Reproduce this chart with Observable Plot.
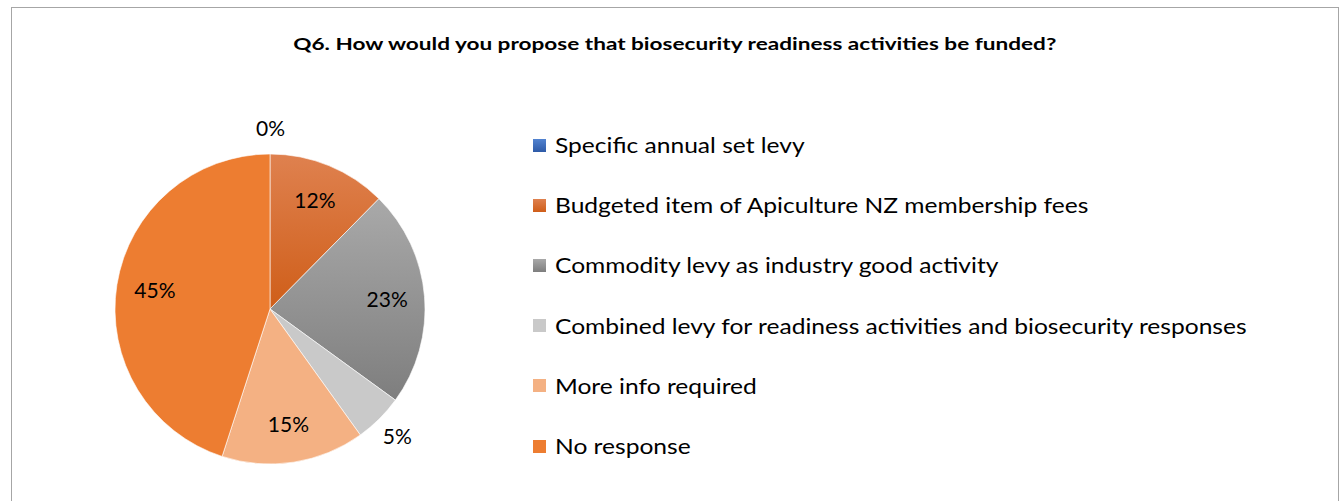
<!DOCTYPE html>
<html><head><meta charset="utf-8">
<script src="https://cdn.jsdelivr.net/npm/d3@7"></script>
<script src="https://cdn.jsdelivr.net/npm/@observablehq/plot@0.6"></script>
<style>
body{margin:0;background:#fff;}
#wrap{position:relative;width:1343px;height:501px;overflow:hidden;font-family:Lato,"Open Sans",sans-serif;color:#000;}
#frame{position:absolute;left:11px;top:7px;width:1328px;height:520px;border:1.5px solid #a6a6a6;box-sizing:border-box;}
#title{position:absolute;top:34px;left:11px;width:1328px;text-align:center;font-weight:bold;font-size:17.5px;line-height:20px;}
#title span{display:inline-block;transform:scaleX(1.29);transform-origin:center;}
#chart{position:absolute;left:0;top:0;}
.leg{position:absolute;left:533px;height:24px;font-size:21px;line-height:24px;display:flex;align-items:center;white-space:nowrap;}
.leg span{display:inline-block;transform:scaleX(1.17);transform-origin:left center;}
.sw{width:13px;height:13px;margin-right:9px;flex:none;}
</style></head>
<body><div id="wrap"><div id="frame"></div><div id="title"><span></span></div><div id="chart"></div><div id="legend"></div></div>
<script>
const title = "Q6. How would you propose that biosecurity readiness activities be funded?";
const categories = [
  "Specific annual set levy",
  "Budgeted item of Apiculture NZ membership fees",
  "Commodity levy as industry good activity",
  "Combined levy for readiness activities and biosecurity responses",
  "More info required",
  "No response"
];
const values = [0, 12.4, 22.6, 5.1, 14.9, 45.0];
const labels = values.map(v => Math.round(v) + "%");
// style: [top colour, bottom colour] per slice
const colorTop = ["#5283d0", "#df814f", "#a9a9a9", "#c9c9c9", "#f4b183", "#ed7d31"];
const colorBot = ["#2e5aa7", "#cf5e19", "#7e7e7e", "#c9c9c9", "#f4b183", "#ed7d31"];

document.querySelector("#title span").textContent = title;

const total = d3.sum(values);
const pie = d3.pie().sort(null).value(d => d.value)(categories.map((c, i) => ({cat: c, value: values[i], i})));
const slices = pie.map(p => {
  const mid = (p.startAngle + p.endAngle) / 2;
  const frac = p.data.value / total;
  const r = frac < 0.08 ? 1.16 : 0.755;
  return {cat: p.data.cat, i: p.data.i, label: labels[p.data.i], start: p.startAngle, end: p.endAngle,
          lx: r * Math.sin(mid), ly: r * Math.cos(mid)};
});

const W = 1343, H = 501;
const cx = 270, cy = 309, R = 155;

const pieMark = (index, scales) => {
  const x0 = scales.x(0), y0 = scales.y(0), rad = scales.x(1) - scales.x(0);
  const g = d3.create("svg:g");
  const defs = g.append("defs");
  slices.forEach(s => {
    const lg = defs.append("linearGradient").attr("id", "grad" + s.i)
      .attr("x1", 0).attr("y1", 0).attr("x2", 0).attr("y2", 1);
    lg.append("stop").attr("offset", "0%").attr("stop-color", colorTop[s.i]);
    lg.append("stop").attr("offset", "100%").attr("stop-color", colorBot[s.i]);
  });
  const arc = d3.arc().innerRadius(0).outerRadius(rad);
  g.selectAll("path").data(slices.filter(s => s.end > s.start)).join("path")
    .attr("transform", `translate(${x0},${y0})`)
    .attr("d", s => arc({startAngle: s.start, endAngle: s.end}))
    .attr("fill", s => `url(#grad${s.i})`)
    .attr("stroke", "#ffffff").attr("stroke-width", 0.6);
  return g.node();
};

const chart = Plot.plot({
  width: W, height: H,
  marginLeft: cx - R, marginRight: W - (cx + R),
  marginTop: cy - R, marginBottom: H - (cy + R),
  x: {domain: [-1, 1], axis: null},
  y: {domain: [-1, 1], axis: null},
  style: {background: "transparent", overflow: "visible"},
  marks: [
    pieMark,
    Plot.text(slices, {x: "lx", y: "ly", text: "label", fontSize: 21, fill: "#000",
      fontFamily: "Lato, 'Open Sans', sans-serif"})
  ]
});
document.getElementById("chart").appendChild(chart);

const legend = document.getElementById("legend");
categories.forEach((c, i) => {
  const row = document.createElement("div");
  row.className = "leg";
  row.style.top = (145 - 12 + i * 60.2) + "px";
  const sw = document.createElement("div");
  sw.className = "sw";
  sw.style.background = `linear-gradient(${colorTop[i]}, ${colorBot[i]})`;
  const t = document.createElement("span");
  t.textContent = c;
  row.appendChild(sw); row.appendChild(t);
  legend.appendChild(row);
});
</script>
</body></html>
